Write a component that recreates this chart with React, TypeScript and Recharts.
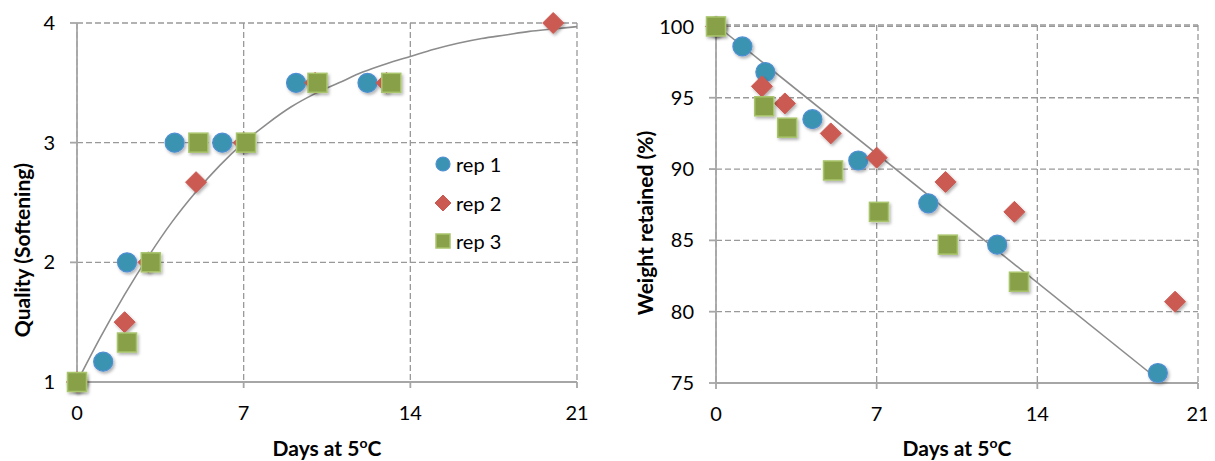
import React from "react";
import { ComposedChart, Scatter, Line, XAxis, YAxis, CartesianGrid, Legend } from "recharts";

const FONT = "Lato, 'Open Sans', sans-serif";

const dayTicks = [0, 7, 14, 21];
const qualityTicks = [1, 2, 3, 4];
const weightTicks = [75, 80, 85, 90, 95, 100];

// rep 1
const rep1QualityDays = [0, 1.1, 2.1, 4.1, 6.1, 9.2, 12.2];
const rep1Quality = [1, 1.17, 2, 3, 3, 3.5, 3.5];
const rep1WeightDays = [0, 1.15, 2.15, 4.2, 6.2, 9.25, 12.25, 19.25];
const rep1Weight = [100, 98.6, 96.8, 93.5, 90.6, 87.6, 84.7, 75.7];

// rep 2
const rep2Days = [0, 2, 3, 5, 7, 10, 13, 20];
const rep2Quality = [1, 1.5, 2, 2.67, 3, 3.5, 3.5, 4];
const rep2Weight = [100, 95.8, 94.6, 92.5, 90.8, 89.1, 87.0, 80.7];

// rep 3
const rep3Days = [0, 2.1, 3.1, 5.1, 7.1, 10.1, 13.2];
const rep3Quality = [1, 1.33, 2, 3, 3, 3.5, 3.5];
const rep3Weight = [100, 94.4, 92.9, 89.9, 87.0, 84.7, 82.1];

// trend lines
const qualityTrendDays = [0, 1, 2, 3, 4, 5, 6, 7, 8, 9, 10, 11, 12, 13, 14, 15, 16, 17, 18, 19, 20, 21];
const qualityTrend = [1.0, 1.38, 1.73, 2.05, 2.34, 2.59, 2.81, 3.0, 3.16, 3.3, 3.41, 3.5, 3.59, 3.66, 3.72, 3.78, 3.83, 3.87, 3.9, 3.93, 3.95, 3.97];
const weightTrendDays = [0, 19.45];
const weightTrend = [100.1, 75];

const repNames = ["rep 1", "rep 2", "rep 3"];

const markerStyle: Record<string, { kind: string; fill: string; stroke: string }> = {
  "rep 1": { kind: "circle", fill: "#3A93B2", stroke: "#4F8FD2" },
  "rep 2": { kind: "diamond", fill: "#CB5A52", stroke: "#CB5A52" },
  "rep 3": { kind: "square", fill: "#88A14A", stroke: "#A9C56C" },
};

const zip = (xs: number[], ys: number[]) => xs.map((x, i) => ({ x, y: ys[i] }));

function Marker({ cx, cy, name, size = 19, shadow = true }: any) {
  const s = markerStyle[name];
  const h = size / 2;
  const filter = shadow ? "url(#markShadow)" : undefined;
  if (s.kind === "circle")
    return <circle cx={cx} cy={cy} r={h} fill={s.fill} stroke={s.stroke} strokeWidth={1.2} filter={filter} />;
  if (s.kind === "diamond")
    return (
      <polygon
        points={`${cx},${cy - h - 1} ${cx + h + 1},${cy} ${cx},${cy + h + 1} ${cx - h - 1},${cy}`}
        fill={s.fill}
        stroke={s.stroke}
        filter={filter}
      />
    );
  return (
    <rect x={cx - h} y={cy - h} width={size} height={size} fill={s.fill} stroke={s.stroke} strokeWidth={1.5} filter={filter} />
  );
}

function LegendBox() {
  return (
    <div style={{ fontFamily: FONT, fontSize: 20, color: "#000" }}>
      {repNames.map((n) => (
        <div key={n} style={{ display: "flex", alignItems: "center", height: 38.5 }}>
          <svg width={18} height={18} style={{ marginRight: 4 }}>
            <Marker cx={9} cy={9} name={n} size={14} shadow={false} />
          </svg>
          <span>{n}</span>
        </div>
      ))}
    </div>
  );
}

function YTitle({ px, py, title }: any) {
  return (
    <text
      x={px}
      y={py}
      transform={`rotate(-90 ${px} ${py})`}
      textAnchor="middle"
      dominantBaseline="central"
      fontFamily={FONT}
      fontWeight={700}
      fontSize={21}
      fill="#000"
    >
      {title}
    </text>
  );
}

function XTitle({ px, py }: any) {
  return (
    <text x={px} y={py} textAnchor="middle" fontFamily={FONT} fontWeight={700} fontSize={21} fill="#000">
      <tspan>Days at 5</tspan>
      <tspan dy={-8} fontSize={14}>o</tspan>
      <tspan dy={8}>C</tspan>
    </text>
  );
}

const tickStyle = { fill: "#000", fontSize: 20, fontFamily: FONT };
const axisGray = "#A6A6A6";

function Panel({ width, margin, yWidth, yTicks, yDomain, reps, trend, trendType, yTitle, showLegend }: any) {
  return (
    <ComposedChart width={width} height={461} margin={margin}>
      <CartesianGrid stroke="#999" strokeDasharray="6 3" strokeWidth={1.3} />
      <XAxis
        type="number"
        dataKey="x"
        domain={[0, 21]}
        ticks={dayTicks}
        height={78 + (margin.extraX || 0)}
        tick={tickStyle}
        tickSize={6}
        tickMargin={18}
        stroke={axisGray}
        strokeWidth={1.8}
        label={<XTitle px={margin.left + yWidth + (width - margin.left - yWidth - margin.right) / 2} py={456} />}
      />
      <YAxis
        type="number"
        dataKey="y"
        domain={yDomain}
        ticks={yTicks}
        width={yWidth}
        tick={tickStyle}
        tickSize={7}
        tickMargin={15}
        stroke={axisGray}
        strokeWidth={1.8}
        label={<YTitle px={yTitle.x} py={yTitle.y} title={yTitle.text} />}
      />
      {reps.map((r: any) => (
        <Scatter
          key={r.name}
          name={r.name}
          data={r.data}
          fill={markerStyle[r.name].fill}
          shape={(p: any) => <Marker cx={p.cx} cy={p.cy} name={r.name} />}
          isAnimationActive={false}
        />
      ))}
      <Line
        data={trend}
        dataKey="y"
        type={trendType}
        stroke="#8C8C8C"
        strokeWidth={1.6}
        dot={false}
        activeDot={false}
        legendType="none"
        isAnimationActive={false}
      />
      {showLegend && (
        <Legend
          layout="vertical"
          align="center"
          verticalAlign="middle"
          wrapperStyle={{ left: 434, top: 145, width: 120 }}
          content={<LegendBox />}
        />
      )}
    </ComposedChart>
  );
}

export default function App() {
  const qualityReps = [
    { name: "rep 1", data: zip(rep1QualityDays, rep1Quality) },
    { name: "rep 2", data: zip(rep2Days, rep2Quality) },
    { name: "rep 3", data: zip(rep3Days, rep3Quality) },
  ];
  const weightReps = [
    { name: "rep 1", data: zip(rep1WeightDays, rep1Weight) },
    { name: "rep 2", data: zip(rep2Days, rep2Weight) },
    { name: "rep 3", data: zip(rep3Days, rep3Weight) },
  ];
  return (
    <div
      style={{
        position: "relative",
        margin: "-8px 0 0 -8px",
        width: 1215,
        height: 461,
        background: "#fff",
        fontFamily: FONT,
        display: "flex",
      }}
    >
      <svg width={0} height={0} style={{ position: "absolute" }}>
        <defs>
          <filter id="markShadow" x="-50%" y="-50%" width="200%" height="200%">
            <feDropShadow dx={1.5} dy={2} stdDeviation={1.5} floodColor="#000" floodOpacity={0.3} />
          </filter>
        </defs>
      </svg>
      <Panel
        width={605}
        margin={{ top: 23, right: 28, bottom: 0, left: 0, extraX: 1 }}
        yWidth={77}
        yTicks={qualityTicks}
        yDomain={[1, 4]}
        reps={qualityReps}
        trend={zip(qualityTrendDays, qualityTrend)}
        trendType="monotone"
        yTitle={{ x: 21, y: 250, text: "Quality (Softening)" }}
        showLegend
      />
      <Panel
        width={610}
        margin={{ top: 25, right: 17, bottom: 0, left: 0 }}
        yWidth={111}
        yTicks={weightTicks}
        yDomain={[75, 100]}
        reps={weightReps}
        trend={zip(weightTrendDays, weightTrend)}
        trendType="linear"
        yTitle={{ x: 39, y: 223, text: "Weight retained (%)" }}
      />
    </div>
  );
}
